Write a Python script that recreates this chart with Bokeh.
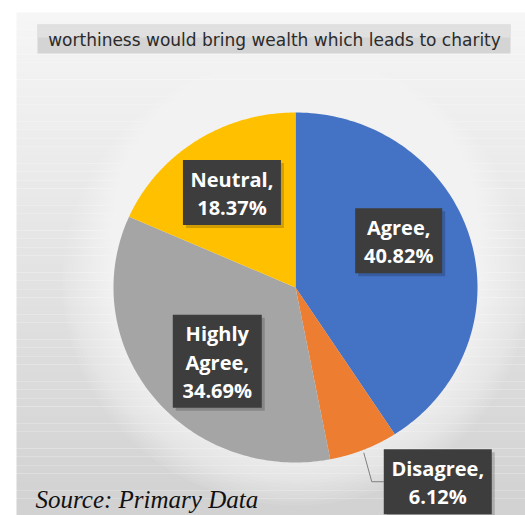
import numpy as np
from bokeh.plotting import figure
from bokeh.models import Range1d
from bokeh.core.properties import value
from bokeh.embed import file_html
from bokeh.resources import INLINE

# ---- data ----
categories = ["Agree", "Disagree", "Highly Agree", "Neutral"]
percents = [40.82, 6.12, 34.69, 18.37]
label_names = ["Agree,", "Disagree,", "Highly\nAgree,", "Neutral,"]
colors = ["#4472C4", "#ED7D31", "#A5A5A5", "#FFC000"]
title_text = "worthiness would bring wealth which leads to charity"
source_text = "Source: Primary Data"

# ---- layout ----
W, H = 525, 515
CX, CY, RX, RY = 295, 287, 182, 175
label_r = [0.62, 1.0, 0.62, 0.62]
label_nudge = [(-5, -16), (74, 32), (10, 6), (-2, -4)]
box_size = [(87, 65), (108, 65), (89, 93), (98, 65)]

p = figure(width=W, height=H, output_backend="svg", toolbar_location=None,
           x_range=Range1d(0, W), y_range=Range1d(H, 0), min_border=0)
p.axis.visible = False
p.grid.visible = False
p.outline_line_color = None
p.background_fill_color = "white"
p.border_fill_color = "white"

# background panel: vertical gradient
n = 60
ys = np.linspace(12, H, n + 1)
c0, c1 = np.array([246, 246, 246]), np.array([210, 210, 210])
cols = []
for i in range(n):
    t = i / (n - 1)
    c = (c0 * (1 - t) + c1 * t).astype(int)
    cols.append("#%02x%02x%02x" % tuple(c))
p.quad(left=[16] * n, right=[W] * n, top=list(ys[:-1]), bottom=list(ys[1:]),
       fill_color=cols, line_color=None)
# soft glow around the pie
ks = np.linspace(1.28, 1.02, 14)
p.ellipse(x=[CX] * len(ks), y=[CY - 6] * len(ks), width=list(2 * RX * ks),
          height=list(2 * RY * ks), fill_color="white", fill_alpha=0.07,
          line_color=None)

# title bar
p.quad(left=37, right=510, top=24, bottom=53, fill_color="#d4d4d4",
       line_color=None)
p.quad(left=37, right=510, top=24, bottom=37, fill_color="#e0e0e0",
       line_color=None)
p.text(x=[274], y=[39], text=[title_text], text_align="center",
       text_baseline="middle", text_font=value("DejaVu Sans"),
       text_font_size="17px", text_color="#2b2b2b")

# pie slices (ellipse, clockwise from 12 o'clock)
fr = np.array(percents) / sum(percents)
ends = np.cumsum(fr) * 2 * np.pi
starts = ends - fr * 2 * np.pi
xs_list, ys_list = [], []
for s, e in zip(starts, ends):
    th = np.linspace(s, e, 120)
    xs_list.append([CX] + list(CX + RX * np.sin(th)) + [CX])
    ys_list.append([CY] + list(CY - RY * np.cos(th)) + [CY])
p.patches(xs=xs_list, ys=ys_list, fill_color=colors, line_color=None)

# labels
mids = (starts + ends) / 2
for i in range(len(categories)):
    ex = CX + label_r[i] * RX * np.sin(mids[i])
    ey = CY - label_r[i] * RY * np.cos(mids[i])
    lx, ly = ex + label_nudge[i][0], ey + label_nudge[i][1]
    bw, bh = box_size[i]
    if label_r[i] >= 1.0:
        left = lx - bw / 2
        p.line(x=[ex, left - 12, left], y=[ey + 3, ly, ly],
               line_color="#7f7f7f", line_width=1)
    # shadow
    p.rect(x=lx + 3, y=ly + 3, width=bw, height=bh, fill_color="#000000",
           fill_alpha=0.18, line_color=None)
    p.rect(x=lx, y=ly, width=bw, height=bh, fill_color="#3d3d3d",
           line_color=None)
    txt = "%s\n%.2f%%" % (label_names[i], percents[i])
    p.text(x=[lx], y=[ly + 1], text=[txt], text_align="center",
           text_baseline="middle", text_font=value("Open Sans"),
           text_font_style="bold", text_font_size="20px",
           text_color="white", text_line_height=1.05)

# source note
p.text(x=[35], y=[499], text=[source_text], text_align="left",
       text_baseline="alphabetic", text_font=value("Liberation Serif"),
       text_font_style="italic", text_font_size="25px", text_color="#111111")

open("out.html", "w").write(file_html(p, INLINE))
